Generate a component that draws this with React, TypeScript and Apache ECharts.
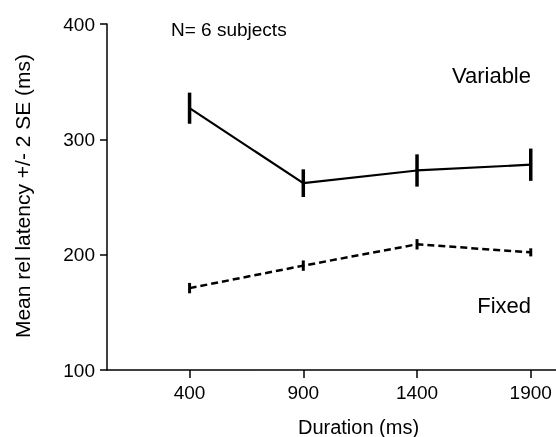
import React, { useEffect, useRef } from "react";
import * as echarts from "echarts";

const durations = [400, 900, 1400, 1900];
const variableMean = [327, 262, 273, 278];
const variableErr = [13.5, 12, 14, 14];
const fixedMean = [171, 190.5, 209, 202];
const fixedErr = [4.5, 4.5, 4.5, 3.5];
const yTicks = [100, 200, 300, 400];

const FONT = "Liberation Sans, Arial, Helvetica, sans-serif";

export default function App() {
  const ref = useRef<HTMLDivElement>(null);
  useEffect(() => {
    if (!ref.current) return;
    const chart = echarts.init(ref.current, null, { renderer: "svg" });
    const errData = (m: number[], e: number[]) =>
      durations.map((d, i) => [d, m[i] - e[i], m[i] + e[i]]);
    const errSeries = (m: number[], e: number[], w: number) => ({
      type: "custom",
      data: errData(m, e),
      encode: { x: 0, y: [1, 2] },
      z: 5,
      renderItem: (params: any, api: any) => {
        const x = api.value(0);
        const lo = api.coord([x, api.value(1)]);
        const hi = api.coord([x, api.value(2)]);
        return {
          type: "line",
          shape: { x1: lo[0], y1: lo[1], x2: hi[0], y2: hi[1] },
          style: { stroke: "#000", lineWidth: w },
        };
      },
    });
    chart.setOption({
      animation: false,
      textStyle: { fontFamily: FONT },
      grid: { left: 107, right: 0, top: 24, bottom: 67 },
      xAxis: {
        type: "value",
        min: 37,
        max: 2011,
        axisLine: { show: true, lineStyle: { color: "#000", width: 1.5 } },
        axisTick: {
          show: true,
          customValues: durations,
          length: 8,
          lineStyle: { color: "#000", width: 1.5 },
        },
        axisLabel: {
          customValues: durations,
          formatter: (v: number) => String(v),
          fontSize: 19,
          margin: 13,
          color: "#000",
          fontFamily: FONT,
        },
        splitLine: { show: false },
      },
      yAxis: {
        type: "value",
        min: 100,
        max: 400,
        interval: 100,
        axisLine: { show: true, lineStyle: { color: "#000", width: 1.5 } },
        axisTick: { show: true, length: 7, lineStyle: { color: "#000", width: 1.5 } },
        axisLabel: {
          customValues: yTicks,
          formatter: (v: number) => String(v),
          fontSize: 19,
          margin: 12,
          color: "#000",
          fontFamily: FONT,
        },
        splitLine: { show: false },
      },
      graphic: [
        {
          type: "text",
          x: 22,
          y: 196,
          rotation: Math.PI / 2,
          style: {
            text: "Mean rel latency +/- 2 SE (ms)",
            fontSize: 21,
            fontFamily: FONT,
            fill: "#000",
            textAlign: "center",
            textVerticalAlign: "middle",
          },
        },
        {
          type: "text",
          x: 358.5,
          y: 427,
          style: {
            text: "Duration (ms)",
            fontSize: 20,
            fontFamily: FONT,
            fill: "#000",
            textAlign: "center",
            textVerticalAlign: "middle",
          },
        },
        {
          type: "text",
          x: 171,
          y: 29,
          style: {
            text: "N= 6 subjects",
            fontSize: 19,
            fontFamily: FONT,
            fill: "#000",
            textAlign: "left",
            textVerticalAlign: "middle",
          },
        },
        {
          type: "text",
          x: 531,
          y: 75,
          style: {
            text: "Variable",
            fontSize: 22,
            fontFamily: FONT,
            fill: "#000",
            textAlign: "right",
            textVerticalAlign: "middle",
          },
        },
        {
          type: "text",
          x: 531,
          y: 305,
          style: {
            text: "Fixed",
            fontSize: 22,
            fontFamily: FONT,
            fill: "#000",
            textAlign: "right",
            textVerticalAlign: "middle",
          },
        },
      ],
      series: [
        {
          name: "Variable",
          type: "line",
          data: durations.map((d, i) => [d, variableMean[i]]),
          symbol: "none",
          lineStyle: { color: "#000", width: 2.2, type: "solid" },
          z: 3,
        },
        {
          name: "Fixed",
          type: "line",
          data: durations.map((d, i) => [d, fixedMean[i]]),
          symbol: "none",
          lineStyle: { color: "#000", width: 2.5, type: [7, 4] },
          z: 3,
        },
        errSeries(variableMean, variableErr, 3.5),
        errSeries(fixedMean, fixedErr, 3),
      ],
    });
    return () => chart.dispose();
  }, []);
  return (
    <div
      ref={ref}
      style={{ position: "fixed", left: 0, top: 0, width: 556, height: 437 }}
    />
  );
}
